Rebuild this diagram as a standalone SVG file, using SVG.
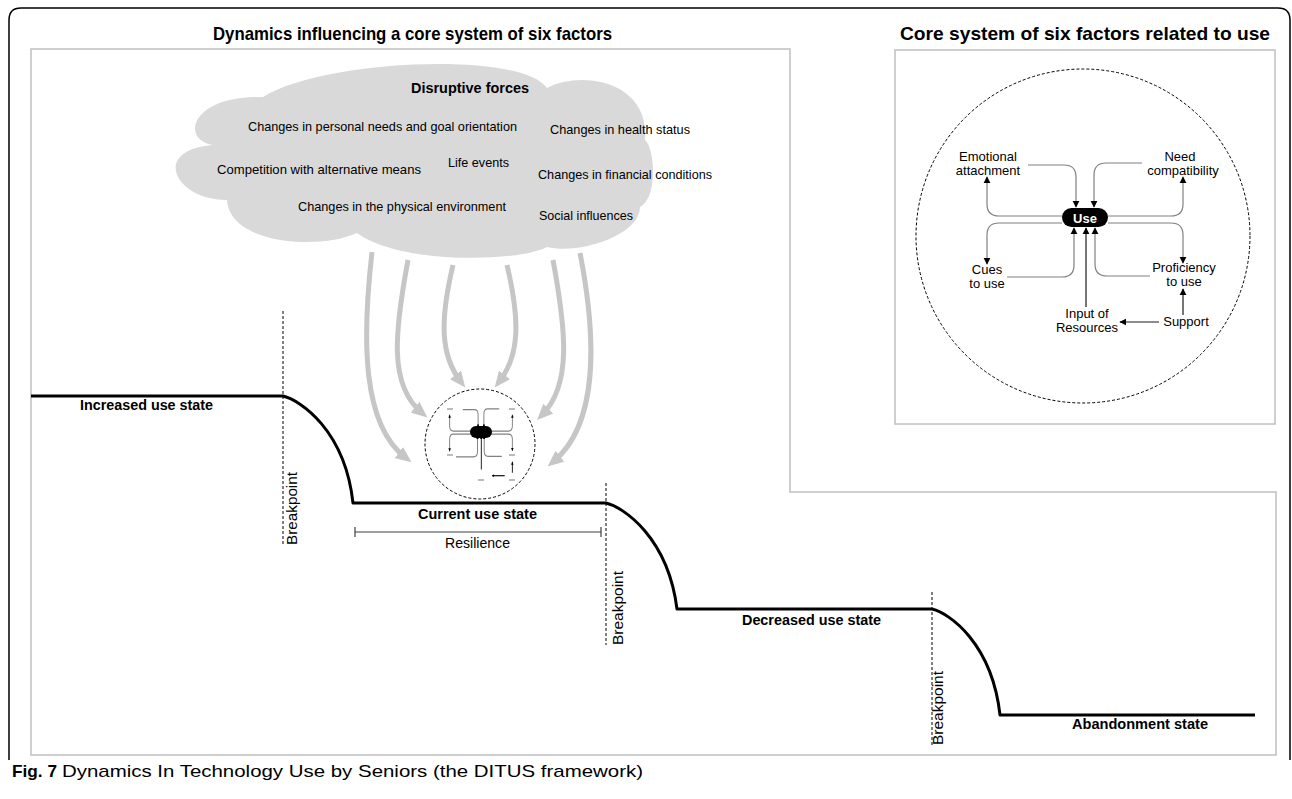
<svg xmlns="http://www.w3.org/2000/svg" width="1292" height="799" viewBox="0 0 1292 799">
<defs>
<style>
text { font-family: "Liberation Sans", Arial, sans-serif; fill:#000; }
.title { font-size:19px; font-weight:bold; }
.cl { font-size:13px; }
.lbl { font-size:13px; text-anchor:middle; }
.state { font-size:14px; font-weight:bold; }
.bp { font-size:14px; }
.cap { font-size:17px; }
.frame { fill:none; stroke:#c0c0c0; stroke-width:1.5; }
.outer { fill:none; stroke:#000; stroke-width:1.5; }
.dash { fill:none; stroke:#000; stroke-width:1; stroke-dasharray:3 2; }
.state-line { fill:none; stroke:#000; stroke-width:3; stroke-linejoin:round; }
.force { fill:none; stroke:#c6c6c6; stroke-width:5; marker-end:url(#gah); }
.link-g { fill:none; stroke:#808080; }
.link-k { fill:none; stroke:#1a1a1a; }
.mark { stroke:#a6a6a6; stroke-width:1.5; }
</style>
<marker id="gah" markerUnits="userSpaceOnUse" markerWidth="16" markerHeight="14" viewBox="0 0 16 14" refX="9" refY="7" orient="auto"><path d="M0,0 L16,7 L0,14 z" fill="#c6c6c6"/></marker>
<marker id="ah" viewBox="0 0 10 10" refX="9" refY="5" markerWidth="6" markerHeight="6" orient="auto"><path d="M0,0 L10,5 L0,10 z" fill="#000"/></marker>
<marker id="ahm" viewBox="0 0 10 10" refX="9" refY="5" markerWidth="2.6" markerHeight="2.6" orient="auto"><path d="M0,0 L10,5 L0,10 z" fill="#000"/></marker>
</defs>
<rect width="1292" height="799" fill="#fff"/>

<g id="frames">
<path class="outer" d="M9,760 V20 Q9,8 21,8 H1278 Q1290,8 1290,20 V760"/>
<path class="frame" d="M31,49 H790 V492 H1276 V755 H31 Z"/>
<rect class="frame" x="895" y="50" width="380" height="374"/>
</g>

<g id="titles">
<text class="title" x="213" y="40" textLength="399" lengthAdjust="spacingAndGlyphs">Dynamics influencing a core system of six factors</text>
<text class="title" x="900" y="40" textLength="370" lengthAdjust="spacingAndGlyphs">Core system of six factors related to use</text>
</g>

<g id="node-disruptive-forces">
<path fill="#d9d9d9" d="M263,97 C320,60 520,50 547,88 C580,70 650,80 645,140 C655,148 658,198 640,207 C640,235 580,255 547,247 C520,262 400,265 357,233 C320,250 230,245 227,200 C175,200 150,150 213,145 C180,140 190,95 263,97 Z"/>
<text x="411" y="93" style="font-size:14px;font-weight:bold" textLength="118" lengthAdjust="spacingAndGlyphs">Disruptive forces</text>
<text class="cl" x="248" y="131" textLength="269" lengthAdjust="spacingAndGlyphs">Changes in personal needs and goal orientation</text>
<text class="cl" x="550" y="134" textLength="140" lengthAdjust="spacingAndGlyphs">Changes in health status</text>
<text class="cl" x="217" y="174" textLength="204" lengthAdjust="spacingAndGlyphs">Competition with alternative means</text>
<text class="cl" x="448" y="167" textLength="61" lengthAdjust="spacingAndGlyphs">Life events</text>
<text class="cl" x="538" y="179" textLength="174" lengthAdjust="spacingAndGlyphs">Changes in financial conditions</text>
<text class="cl" x="298" y="211" textLength="208" lengthAdjust="spacingAndGlyphs">Changes in the physical environment</text>
<text class="cl" x="539" y="220" textLength="94" lengthAdjust="spacingAndGlyphs">Social influences</text>
</g>

<g id="connectors">
<path class="force" d="M372,252 C362,340 362,425 406,458"/>
<path class="force" d="M408,260 C395,330 388,385 422,413"/>
<path class="force" d="M453,265 C440,320 440,355 461,382"/>
<path class="force" d="M507,265 C520,320 520,355 499,382"/>
<path class="force" d="M553,260 C566,330 572,385 542,415"/>
<path class="force" d="M580,253 C597,340 598,425 553,462"/>
</g>

<g id="use-trajectory">
<path class="state-line" d="M31,396 H283 c17,4 62,34 70,107 H606 c17,4 62,34 71,106 H932 c17,4 60,34 68,106 H1255"/>
<path class="dash" d="M283,311 V545"/>
<path class="dash" d="M606,483 V645"/>
<path class="dash" d="M932,592 V745"/>
<text class="bp" transform="translate(297,545) rotate(-90)" textLength="73" lengthAdjust="spacingAndGlyphs">Breakpoint</text>
<text class="bp" transform="translate(623,645) rotate(-90)" textLength="74" lengthAdjust="spacingAndGlyphs">Breakpoint</text>
<text class="bp" transform="translate(943,745) rotate(-90)" textLength="74" lengthAdjust="spacingAndGlyphs">Breakpoint</text>
</g>

<g id="node-increased"><text class="state" x="80" y="410" textLength="133" lengthAdjust="spacingAndGlyphs">Increased use state</text></g>
<g id="node-current"><text class="state" x="418" y="519" textLength="119" lengthAdjust="spacingAndGlyphs">Current use state</text></g>
<g id="node-decreased"><text class="state" x="742" y="625" textLength="139" lengthAdjust="spacingAndGlyphs">Decreased use state</text></g>
<g id="node-abandonment"><text class="state" x="1072" y="729" textLength="136" lengthAdjust="spacingAndGlyphs">Abandonment state</text></g>

<g id="resilience">
<path d="M355,527 V537 M355,532 H601 M601,527 V537" fill="none" stroke="#404040" stroke-width="1.2"/>
<text x="445" y="548" style="font-size:14px" textLength="65" lengthAdjust="spacingAndGlyphs">Resilience</text>
</g>

<!-- Core system inset -->
<g id="core-circle"><circle cx="1083" cy="236" r="167" class="dash"/></g>

<g id="core-connectors" style="stroke-width:1.2; marker-end:url(#ah)">
<g id="core-links">
<path class="link-g" d="M1062,216 H999 Q987,216 987,204 V177"/>
<path class="link-g" d="M1028,165 H1064 Q1076,165 1076,177 V207"/>
<path class="link-g" d="M1142,163 H1106 Q1094,163 1094,175 V207"/>
<path class="link-g" d="M1108,216 H1171 Q1183,216 1183,204 V177"/>
<path class="link-g" d="M1062,223 H999 Q987,223 987,235 V264"/>
<path class="link-g" d="M1007,277 H1062 Q1074,277 1074,265 V228"/>
<path class="link-k" d="M1086,307 V228"/>
<path class="link-g" d="M1150,276 H1107 Q1095,276 1095,264 V228"/>
<path class="link-g" d="M1108,223 H1171 Q1183,223 1183,235 V263"/>
<path class="link-k" d="M1159,322 H1120"/>
<path class="link-k" d="M1183,315 V289"/>
</g>
</g>

<g id="node-use">
<rect x="1062" y="208" width="46" height="19" rx="9.5" fill="#000"/>
<text x="1085" y="222.5" style="font-size:13px;font-weight:bold;fill:#fff" text-anchor="middle">Use</text>
</g>
<g id="node-emotional"><text class="lbl" x="988" y="161">Emotional</text><text class="lbl" x="988" y="175">attachment</text></g>
<g id="node-need"><text class="lbl" x="1180" y="161">Need</text><text class="lbl" x="1183" y="175">compatibility</text></g>
<g id="node-cues"><text class="lbl" x="987" y="274">Cues</text><text class="lbl" x="987" y="288">to use</text></g>
<g id="node-proficiency"><text class="lbl" x="1184" y="272">Proficiency</text><text class="lbl" x="1184" y="286">to use</text></g>
<g id="node-input"><text class="lbl" x="1087" y="318">Input of</text><text class="lbl" x="1087" y="332">Resources</text></g>
<g id="node-support"><text class="lbl" x="1186" y="326">Support</text></g>

<!-- Miniature of the core system -->
<g id="mini-core">
<circle cx="480" cy="444" r="55" class="dash"/>
<use href="#core-links" transform="translate(481,432) scale(0.32,0.42) translate(-1085,-218)" style="stroke-width:3; marker-end:url(#ahm)"/>
<rect x="470" y="426" width="22" height="12" rx="6" fill="#000"/>
<path class="mark" d="M447,409 H453 M509,409 H515 M447,455 H453 M509,455 H515 M478,480 H484 M509,480 H515"/>
</g>

<g id="caption">
<text class="cap" x="12" y="777" style="font-weight:bold" textLength="45" lengthAdjust="spacingAndGlyphs">Fig. 7</text>
<text class="cap" x="62" y="777" textLength="581" lengthAdjust="spacingAndGlyphs">Dynamics In Technology Use by Seniors (the DITUS framework)</text>
</g>
</svg>
